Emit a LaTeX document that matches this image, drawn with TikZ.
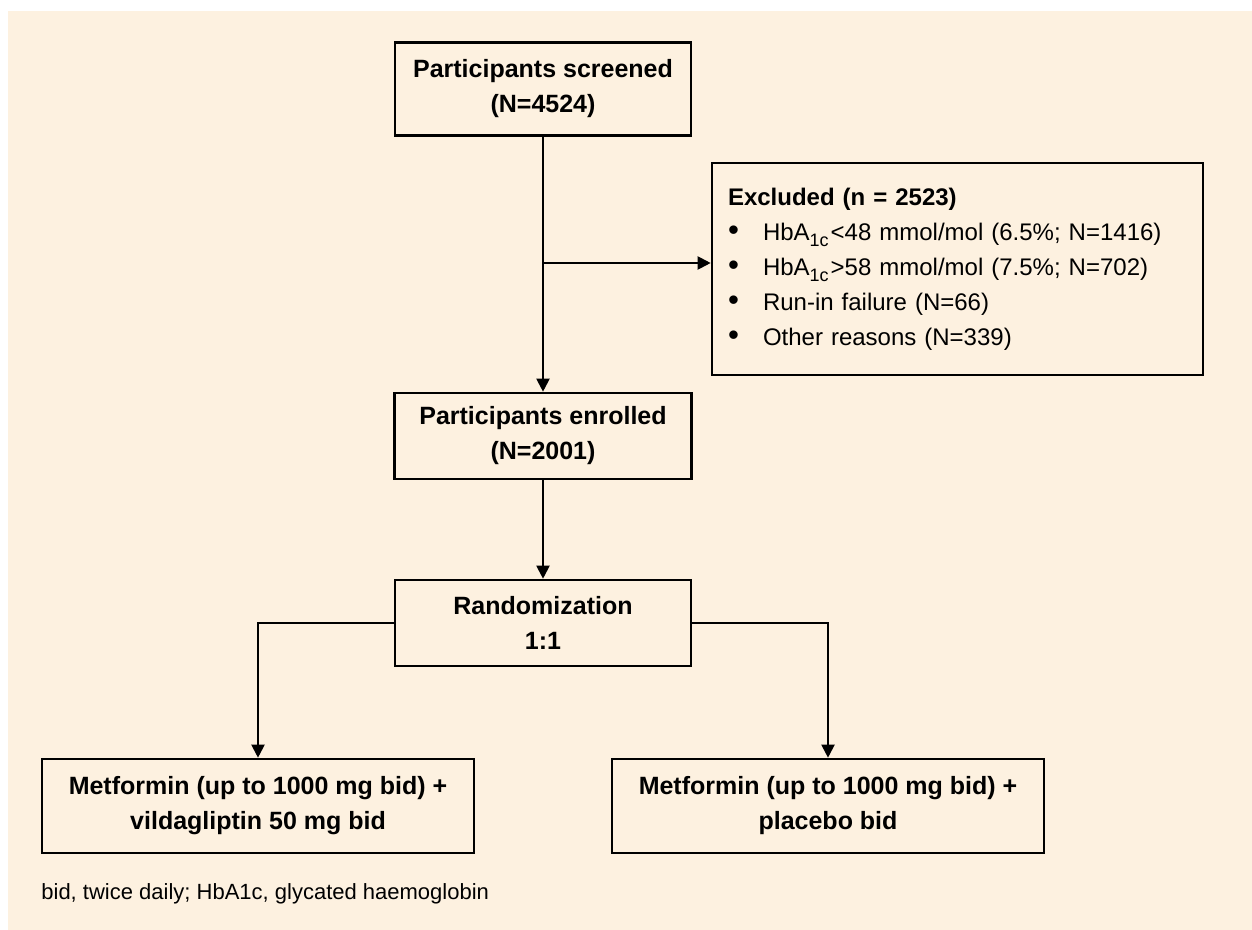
\documentclass[tikz,border=0pt]{standalone}
\usepackage{fontspec}
\setmainfont{Liberation Sans}
\usetikzlibrary{arrows.meta}
\definecolor{cream}{RGB}{253,241,224}
\newcommand{\bitem}{\makebox[17.5pt][l]{\scalebox{1.3}{\textbullet}}}
\newcommand{\hbsub}{HbA\raisebox{-0.28em}{\fontsize{9}{9}\selectfont 1c}}
\begin{document}
\begin{tikzpicture}[x=0.5pt,y=-0.5pt,
  box/.style={draw=black,line width=1.3pt,inner sep=0pt,align=center,
    font=\fontsize{12.5}{17.5}\selectfont\bfseries},
  listbox/.style={draw=black,line width=1.3pt,inner xsep=8pt,inner ysep=0pt,align=left,
    text width=229.5pt,font=\fontsize{12}{17.5}\selectfont},
  conn/.style={line width=1pt},
  arr/.style={conn,-{Triangle[length=6.5pt,width=6.5pt]}},
  note/.style={font=\fontsize{11}{13}\selectfont,inner sep=0pt}]
\useasboundingbox (0,0) rectangle (1252,930);
\fill[cream] (8,11) rectangle (1252,930);

\node[box,minimum width=148pt,minimum height=46.5pt] (screened) at (543,89)
  {Participants screened\\(N=4524)};
\node[listbox,minimum width=245.5pt,minimum height=106pt] (excl) at (957.5,269)
  {\textbf{Excluded (n = 2523)}\\
   \bitem \hbsub\kern1pt<48 mmol/mol (6.5\%; N=1416)\\
   \bitem \hbsub\kern1pt>58 mmol/mol (7.5\%; N=702)\\
   \bitem Run-in failure (N=66)\\
   \bitem Other reasons (N=339)};
\node[box,minimum width=148.5pt,minimum height=43pt] (enrolled) at (543,436)
  {Participants enrolled\\(N=2001)};
\node[box,minimum width=148pt,minimum height=43pt] (rand) at (543,623)
  {Randomization\\1:1};
\node[box,minimum width=216pt,minimum height=47pt] (left) at (258,806)
  {Metformin (up to 1000 mg bid) +\\vildagliptin 50 mg bid};
\node[box,minimum width=216pt,minimum height=47pt] (right) at (828,806)
  {Metformin (up to 1000 mg bid) +\\placebo bid};
\node[note,anchor=base west] (foot) at (41,899)
  {bid, twice daily; HbA1c, glycated haemoglobin};

\draw[arr] (screened.south) -- (enrolled.north);
\coordinate (branch) at (543,263);
\draw[arr] (branch) -- (branch -| excl.west);
\draw[arr] (enrolled.south) -- (rand.north);
\draw[arr] (rand.west) -| (left.north);
\draw[arr] (rand.east) -| (right.north);
\end{tikzpicture}
\end{document}
